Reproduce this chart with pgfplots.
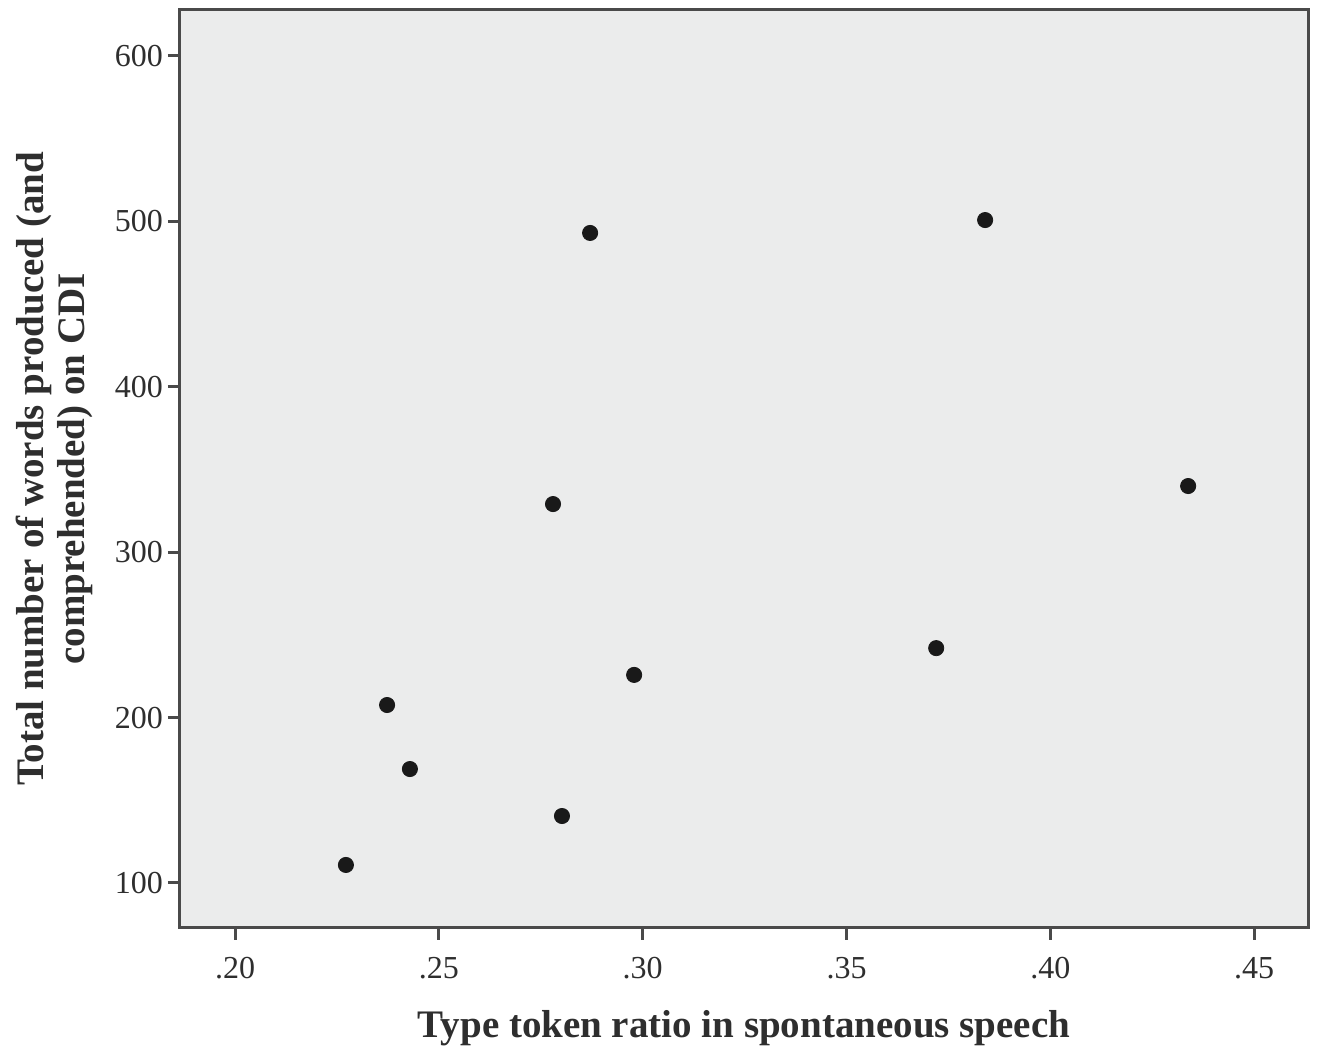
\documentclass[border=0pt]{standalone}
\usepackage{pgfplots}
\pgfplotsset{compat=1.18}
\usepackage{fontspec}
\setmainfont{Liberation Serif}
\definecolor{bgc}{HTML}{EBECEC}
\definecolor{axc}{HTML}{4A4A4A}
\definecolor{txc}{HTML}{2E2E2E}
\begin{document}
\begin{tikzpicture}
\begin{axis}[
  scale only axis,
  width=564pt, height=459pt,
  xmin=0.1865, xmax=0.4632,
  ymin=72.8, ymax=627.8,
  axis background/.style={fill=bgc},
  axis line style={draw=axc, line width=1.5pt},
  every tick/.style={draw=axc, line width=1.5pt},
  tick align=outside,
  major tick length=6pt,
  xtick={0.20,0.25,0.30,0.35,0.40,0.45},
  xticklabels={.20,.25,.30,.35,.40,.45},
  ytick={100,200,300,400,500,600},
  xtick pos=bottom, ytick pos=left,
  tick label style={font=\fontsize{16}{18}\selectfont, text=txc},
  xticklabel style={yshift=-5pt},
  yticklabel style={xshift=1pt},
  /pgf/number format/assume math mode=true,
  xlabel={\textbf{Type token ratio in spontaneous speech}},
  ylabel={\textbf{Total number of words produced (and}\\\textbf{comprehended) on CDI}},
  label style={font=\fontsize{19.5}{20.5}\selectfont, text=txc},
  ylabel style={align=center, yshift=4pt},
  xlabel style={yshift=-9pt},
]
\addplot[only marks, mark=*, mark size=3.8pt, mark options={fill=black!90, draw=black!90}] coordinates {
(0.2272,110.9)
(0.2373,207.6)
(0.2429,168.9)
(0.2780,329.1)
(0.2802,140.5)
(0.2871,493.0)
(0.2979,225.8)
(0.3720,242.0)
(0.3840,500.8)
(0.4338,340.0)
};
\end{axis}
\path ([xshift=-90pt, yshift=-61pt]current axis.south west) rectangle ([xshift=6pt, yshift=5pt]current axis.north east);
\end{tikzpicture}
\end{document}
